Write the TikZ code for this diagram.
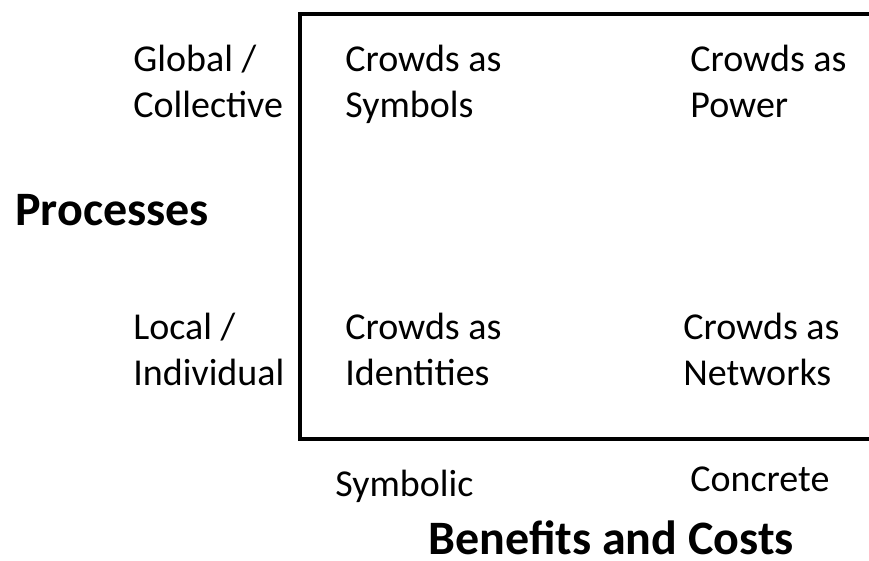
\documentclass[tikz,border=0pt]{standalone}
\usepackage{fontspec}
\setmainfont{Carlito}
\usetikzlibrary{positioning}

\begin{document}
\begin{tikzpicture}[
        x=0.5pt, y=-0.5pt,
        cell/.style={anchor=base west, inner sep=0pt, align=left,
                     font=\fontsize{19}{23}\selectfont},
        axis/.style={anchor=base west, inner sep=0pt,
                     font=\fontsize{24}{28}\selectfont\bfseries},
    ]

    \useasboundingbox (0,0) rectangle (869,561);
    \clip (0,0) rectangle (869,561);

    % frame, open to the right
    \draw[line width=2pt] (880,14) -- (300,14) -- (300,439) -- (880,439);

    % row labels (base = last line)
    \node[cell] (global) at (133,118) {Global /\\Collective};
    \node[cell] (local) at (133,386) {Local /\\Individual};
    \node[axis] (processes) at (15,226) {Processes};

    % cells
    \node[cell] (symbols) at (345,118) {Crowds as\\Symbols};
    \node[cell] (power) at (690,118) {Crowds as\\Power};
    \node[cell] (identities) at (345,386) {Crowds as\\Identities};
    \node[cell] (networks) at (683,386) {Crowds as\\Networks};

    % column labels
    \node[cell] (symbolic) at (335,497) {Symbolic};
    \node[cell] (concrete) at (690,492) {Concrete};
    \node[axis] (benefits) at (428,555) {Benefits and Costs};

\end{tikzpicture}
\end{document}
